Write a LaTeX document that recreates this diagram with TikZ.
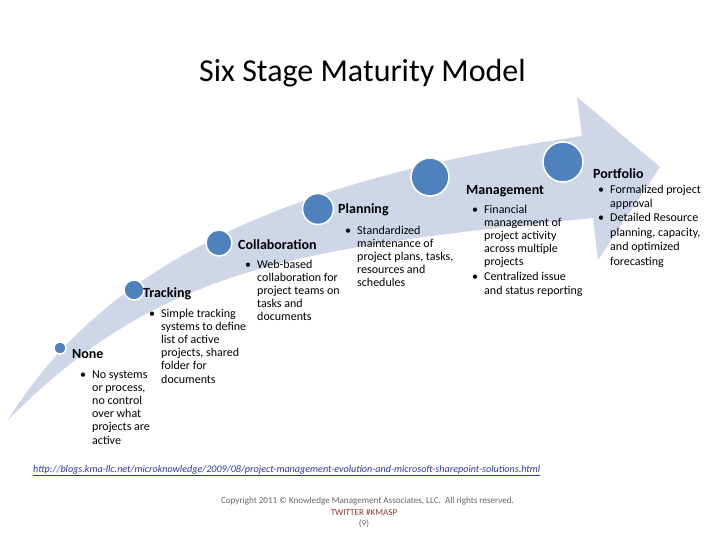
\documentclass[tikz,border=0pt]{standalone}
\usepackage{fontspec}
\setmainfont{Carlito}
\definecolor{arrowfill}{HTML}{CFD6E8}
\definecolor{circfill}{HTML}{4F81BD}
\definecolor{urlblue}{HTML}{2B3C9C}
\definecolor{footgray}{HTML}{666666}
\definecolor{twitred}{HTML}{953735}
\tikzset{
  stagecircle/.style={circle, fill=circfill, draw=white, line width=1.5pt, inner sep=0pt},
  stagelabel/.style={anchor=base west, inner sep=0pt, font=\bfseries\fontsize{14}{16}\selectfont},
  bullets/.style={anchor=base west, inner sep=0pt, font=\fontsize{12}{13.2}\selectfont},
  footer/.style={anchor=base, inner sep=0pt, font=\fontsize{9.1}{10}\selectfont}
}
\begin{document}
\begin{tikzpicture}[x=1pt,y=-1pt]
\useasboundingbox (0,0) rectangle (728,546);
\fill[white] (0,0) rectangle (728,546);
% title
\node[anchor=base, inner sep=0pt, font=\fontsize{32}{38}\selectfont] (title) at (362.5,81) {Six Stage Maturity Model};
% arrow
\fill[arrowfill] (8,420) .. controls (118,242) and (331,173.5) .. (582,136)
  -- (577,97) -- (660,167) -- (598,260) -- (593,218)
  .. controls (295,248) and (158,268) .. (8,420) -- cycle;
% circles
\node[stagecircle, minimum size=12pt] (c1) at (60,348) {};
\node[stagecircle, minimum size=20pt] (c2) at (134,290) {};
\node[stagecircle, minimum size=26pt] (c3) at (219,243) {};
\node[stagecircle, minimum size=31pt] (c4) at (318,209) {};
\node[stagecircle, minimum size=38pt] (c5) at (430,177) {};
\node[stagecircle, minimum size=40pt] (c6) at (563,162) {};
% labels
\node[stagelabel] (l1) at (72,358) {None};
\node[stagelabel] (l2) at (143,297) {Tracking};
\node[stagelabel] (l3) at (238,249) {Collaboration};
\node[stagelabel] (l4) at (338,213) {Planning};
\node[stagelabel] (l5) at (466,194) {Management};
\node[stagelabel] (l6) at (593,178) {Portfolio};
% bullets
\node[bullets] (b1) at (80,378) {\begin{tabular}[t]{@{}p{12pt}@{}l@{}}
•& No systems\\ & or process,\\ & no control\\ & over what\\ & projects are\\ & active\end{tabular}};
\node[bullets] (b2) at (149,317) {\begin{tabular}[t]{@{}p{12pt}@{}l@{}}
•& Simple tracking\\ & systems to define\\ & list of active\\ & projects, shared\\ & folder for\\ & documents\end{tabular}};
\node[bullets] (b3) at (245,268) {\begin{tabular}[t]{@{}p{12pt}@{}l@{}}
•& Web-based\\ & collaboration for\\ & project teams on\\ & tasks and\\ & documents\end{tabular}};
\node[bullets] (b4) at (345,234) {\begin{tabular}[t]{@{}p{12pt}@{}l@{}}
•& Standardized\\ & maintenance of\\ & project plans, tasks,\\ & resources and\\ & schedules\end{tabular}};
\node[bullets] (b5) at (472,213) {\begin{tabular}[t]{@{}p{12pt}@{}l@{}}
•& Financial\\ & management of\\ & project activity\\ & across multiple\\ & projects\\[1.8pt]
•& Centralized issue\\ & and status reporting\end{tabular}};
\node[bullets, font=\fontsize{12}{14.4}\selectfont] (b6) at (598,193) {\begin{tabular}[t]{@{}p{12pt}@{}l@{}}
•& Formalized project\\ & approval\\
•& Detailed Resource\\ & planning, capacity,\\ & and optimized\\ & forecasting\end{tabular}};
% footer
\node[anchor=base west, inner sep=0pt, text=urlblue, font=\itshape] (url) at (33,472)
  {\resizebox{507pt}{!}{\underline{http://blogs.kma-llc.net/microknowledge/2009/08/project-management-evolution-and-microsoft-sharepoint-solutions.html}}};
\node[footer, text=footgray] (copy) at (367.5,503) {Copyright 2011 © Knowledge Management Associates, LLC.\ \ All rights reserved.};
\node[footer, text=twitred] (tw) at (364,515) {TWITTER \#KMASP};
\node[footer, text=footgray] (pg) at (364,526) {(9)};
\end{tikzpicture}
\end{document}
